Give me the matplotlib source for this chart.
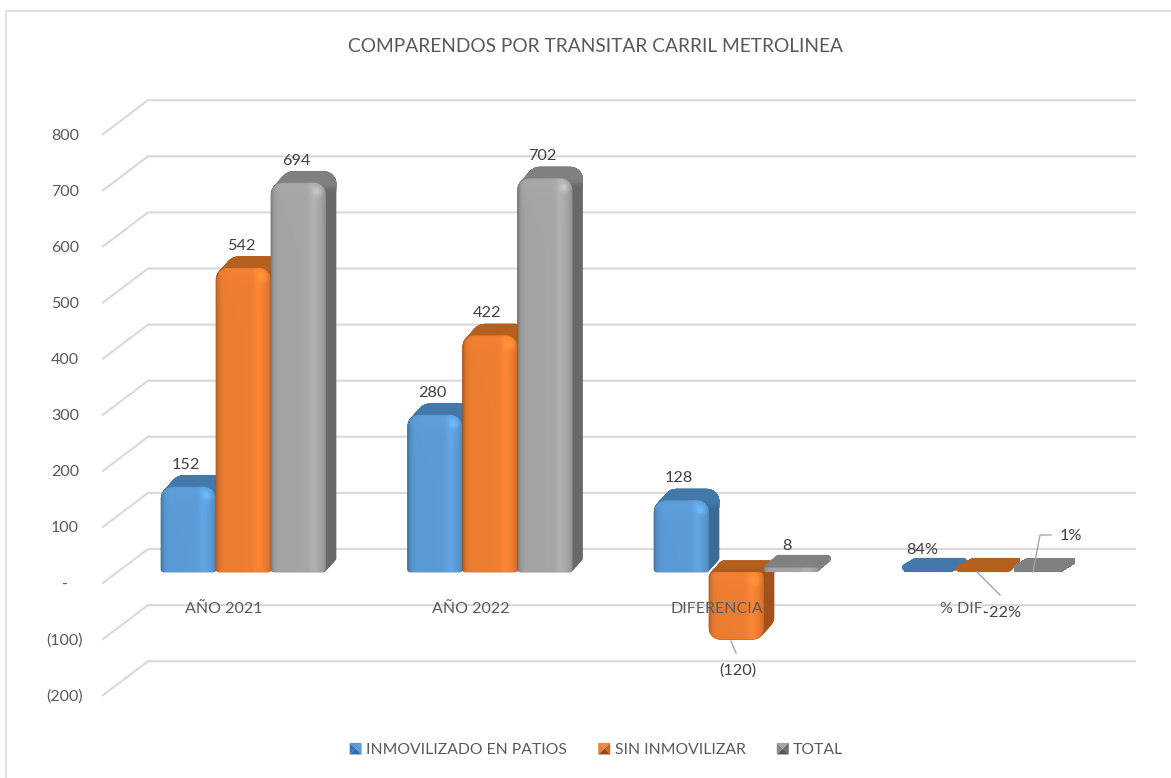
import numpy as np
import matplotlib
matplotlib.use("Agg")
import matplotlib.pyplot as plt
from matplotlib.colors import to_rgb
from matplotlib.patches import Polygon, Rectangle
from matplotlib.lines import Line2D
from matplotlib.legend_handler import HandlerBase

# ---------- data ----------
TITLE = "COMPARENDOS POR TRANSITAR CARRIL METROLINEA"
categories = ["AÑO 2021", "AÑO 2022", "DIFERENCIA", "% DIF."]
inmovilizado = [152, 280, 128, 0.84]
sin_inmovilizar = [542, 422, -120, -0.22]
total = [694, 702, 8, 0.01]
inmovilizado_labels = ["152", "280", "128", "84%"]
sin_inmovilizar_labels = ["542", "422", "(120)", "-22%"]
total_labels = ["694", "702", "8", "1%"]
series_names = ["INMOVILIZADO EN PATIOS", "SIN INMOVILIZAR", "TOTAL"]
y_ticks = [800, 700, 600, 500, 400, 300, 200, 100, 0, -100, -200]
y_tick_labels = ["800", "700", "600", "500", "400", "300", "200", "100", "-", "(100)", "(200)"]

# ---------- style / layout ----------
W, H = 1171, 778
FONT = "Lato"
TXT = "#595959"
LAB = "#404040"
GRID = "#d9d9d9"
BASE = [(0x5b, 0x9b, 0xd5), (0xed, 0x7d, 0x31), (0xa5, 0xa5, 0xa5)]
TOPC = ["#4279aa", "#b6601f", "#808080"]
SIDE = ["#3b6a94", "#a3521c", "#696969"]
PX_X = 246.5   # px per category
PX_Y = 0.561   # px per value unit
X0_PX, Y0_PX = 243.5, 583.0
BAR_PX = 55
DEPTH = (10, 11)
sx, sy = 1 / PX_X, 1 / PX_Y


def X(px):
    return (px - X0_PX) * sx


def Y(px):
    return (Y0_PX - px) * sy


plt.rcParams["font.family"] = [FONT, "DejaVu Sans"]
fig = plt.figure(figsize=(W / 100, H / 100), dpi=100, facecolor="white")
ax = fig.add_axes([0, 0, 1, 1], facecolor="white")
xlim, ylim = (X(0), X(W)), (Y(H), Y(0))
for s in ax.spines.values():
    s.set_visible(False)

# chart frame (left and top only remain visible in the crop)
ax.plot([X(5.5), X(5.5), X(W)], [Y(H), Y(11.5), Y(11.5)], color="#d9d9d9", lw=1.1, zorder=1)

# walls
back_off = 35 * sy
for v in y_ticks:
    ax.plot([X(103), X(148), X(1135)], [v, v + back_off - 1 * sy, v + back_off - 1 * sy],
            color=GRID, lw=1.5, zorder=1, solid_joinstyle="miter")

base_off = 11 * sy  # bars stand this far above the left-axis zero


def rounded(x0, x1, y0, y1, r_top, r_bot):
    """Rounded rectangle, data coordinates; radii in px."""
    t = np.linspace(0, np.pi / 2, 8)
    pts = []
    for cx, cy, r, a0 in [
        (x1 - r_top * sx, y1 - r_top * sy, r_top, 0),
        (x0 + r_top * sx, y1 - r_top * sy, r_top, np.pi / 2),
        (x0 + r_bot * sx, y0 + r_bot * sy, r_bot, np.pi),
        (x1 - r_bot * sx, y0 + r_bot * sy, r_bot, 3 * np.pi / 2),
    ]:
        pts.append(np.c_[cx + r * sx * np.cos(t + a0), cy + r * sy * np.sin(t + a0)])
    return np.vstack(pts)


def extrude(shape, dx, dy, color, z, lw=0.5, clip=None):
    for k in np.linspace(0, 1, 16):
        p = Polygon(shape + [k * dx * sx, k * dy * sy], closed=True, fc=color, ec=color,
                    lw=lw, joinstyle="round", zorder=z)
        ax.add_patch(p)
        if clip is not None:
            p.set_clip_path(Rectangle((clip[0], clip[1]), clip[2], clip[3], transform=ax.transData))


def face_image(w, h, rgb):
    w, h = max(int(w), 2), max(int(h), 2)
    u = np.linspace(0, 1, w)[None, :]
    px = u * (w - 1)
    f = 1.0 - 0.22 * np.exp(-px / 2.5) - 0.16 * np.exp(-(w - 1 - px) / 2.5)
    f = f + 0.07 * np.exp(-((u - 0.78) / 0.09) ** 2)
    v = np.arange(h)[:, None]
    g = f + 0.06 * np.exp(-v / 7.0) * (h > 20)
    g = g + 0.16 * np.exp(-((v - 9) / 4.5) ** 2 - ((px - (w - 9)) / 4.5) ** 2) * (h > 25)
    g = g - 0.10 * np.exp(-v / 1.8) * (h > 20)
    arr = np.clip(g[..., None] * np.array(rgb) / 255.0, 0, 1)
    return arr


def draw_bar(pos, value, idx, z):
    x0 = pos + (idx - 1.5) * BAR_PX * sx
    x1 = x0 + BAR_PX * sx
    b = base_off
    lo, hi = min(0, value) + b, max(0, value) + b
    h_px = (hi - lo) / sy
    dx, dy = DEPTH
    if h_px < 6:
        # nearly flat bars: a rounded lozenge formed by a thick round-joined stroke
        shape = rounded(x0 + 3 * sx, x1 - 3 * sx, lo + 3 * sy, hi + 3 * sy - 3 * sy * (h_px > 1), 0, 0)
        extrude(shape, 12, 8 if h_px < 1 else 10, TOPC[idx], z, lw=4.4)
        if h_px > 1:
            r = h_px / 2
            front = rounded(x0, x1, lo, hi, r, r)
            im = ax.imshow(face_image(BAR_PX, h_px * 2, BASE[idx]), extent=(x0, x1, lo, hi), origin="upper",
                           aspect="auto", interpolation="bilinear", zorder=z + 0.2)
            im.set_clip_path(Polygon(front, closed=True, transform=ax.transData))
        return
    if value >= 0:
        rt, rb = min(12, h_px / 2), min(3, h_px / 2)
    else:
        rt, rb = min(5, h_px / 2), min(11, h_px / 2)
    shape = rounded(x0, x1, lo, hi, rt, rb)
    extrude(shape, dx, dy, SIDE[idx], z)
    # the top face fades into the side face over a few pixels
    cut = hi - rt * sy + dy * sy * 0.35
    c0, c1 = np.array(to_rgb(SIDE[idx])), np.array(to_rgb(TOPC[idx]))
    for n, k in enumerate(np.linspace(0.2, 1, 5)):
        extrude(shape, dx, dy, tuple(c0 + k * (c1 - c0)), z + 0.01 * (n + 1),
                clip=(x0 - 1, cut + n * 1.5 * sy, 3, 1000))
    im = ax.imshow(face_image(BAR_PX, h_px, BASE[idx]), extent=(x0, x1, lo, hi), origin="upper",
                   aspect="auto", interpolation="bilinear", zorder=z + 0.2)
    im.set_clip_path(Polygon(shape, closed=True, transform=ax.transData))


positions = np.arange(len(categories))
series = [inmovilizado, sin_inmovilizar, total]
z = 2
for i, pos in enumerate(positions):
    for j, vals in enumerate(series):
        draw_bar(pos, vals[i], j, z)
        z += 1

ax.set_xlim(xlim)
ax.set_ylim(ylim)

# value labels: offset from bar end, px (dx, dy)
text_kw = dict(fontsize=11.7, color=LAB, ha="center", va="center", zorder=60)
label_sets = [inmovilizado_labels, sin_inmovilizar_labels, total_labels]
offsets = {(2, 1): (1.5, -31), (3, 1): (19, -41), (3, 0): (-6, 22), (3, 2): (33, 36), (2, 2): (-5, 22)}
for j, labs in enumerate(label_sets):
    for i, lab in enumerate(labs):
        val = series[j][i]
        xc = positions[i] + (j - 1) * BAR_PX * sx
        n = offsets.get((i, j), (-2.5, 22))
        ax.text(xc + n[0] * sx, val + base_off + n[1] * sy, lab, **text_kw)

# leader lines
ld = dict(color="#a6a6a6", lw=1.0, zorder=55)
ax.plot([X(731), X(736)], [Y(641), Y(653)], **ld)
ax.plot([X(977), X(1000)], [Y(572), Y(595)], **ld)
ax.plot([X(1033), X(1040), X(1051)], [Y(572), Y(535), Y(535)], **ld)

# category labels (over the bars, as in the source)
for pos, cat in zip(positions, categories):
    ax.text(pos - 19.5 * sx, Y(609), cat, fontsize=11.5, color=TXT, ha="center", va="center", zorder=58)

# y axis
ax.set_yticks(y_ticks, y_tick_labels)
ax.set_xticks([])
ax.tick_params(axis="y", length=0, pad=-65 * 0.72, labelcolor=TXT, labelsize=11.5)
for t in ax.get_yticklabels():
    t.set_ha("center")

ax.text(X(595), Y(46), TITLE, fontsize=13.8, color=TXT, ha="center", va="center", zorder=60)


# legend with pyramid-shaded swatches
class Swatch(HandlerBase):
    def __init__(self, cols):
        super().__init__()
        self.cols = cols

    def create_artists(self, legend, orig, xd, yd, w, h, fs, trans):
        x, y = -xd, -yd
        c = (x + w / 2, y + h / 2)
        corners = [(x, y + h), (x + w, y + h), (x + w, y), (x, y)]
        out = []
        for k in range(4):
            out.append(Polygon([corners[k], corners[(k + 1) % 4], c], closed=True, fc=self.cols[k],
                               ec="none", transform=trans))
        return out


sw = [
    ["#5b9bd5", "#5b9bd5", "#2f6ca3", "#3b74a8"],
    ["#f08a42", "#c9651f", "#8f4a1a", "#ed7d31"],
    ["#a5a5a5", "#6e6e6e", "#555555", "#8a8a8a"],
]
handles = [Line2D([], []) for _ in series_names]
leg = ax.legend(handles, series_names, loc="center", bbox_to_anchor=(596.5 / W, 1 - 750 / H),
                ncols=3, frameon=False, fontsize=11.3, labelcolor=TXT, handlelength=0.76, handleheight=0.76,
                handletextpad=0.28, columnspacing=2.0, borderpad=0,
                handler_map={h: Swatch(c) for h, c in zip(handles, sw)})
leg.set_zorder(60)

fig.savefig("out.png", dpi=100, facecolor="white")
